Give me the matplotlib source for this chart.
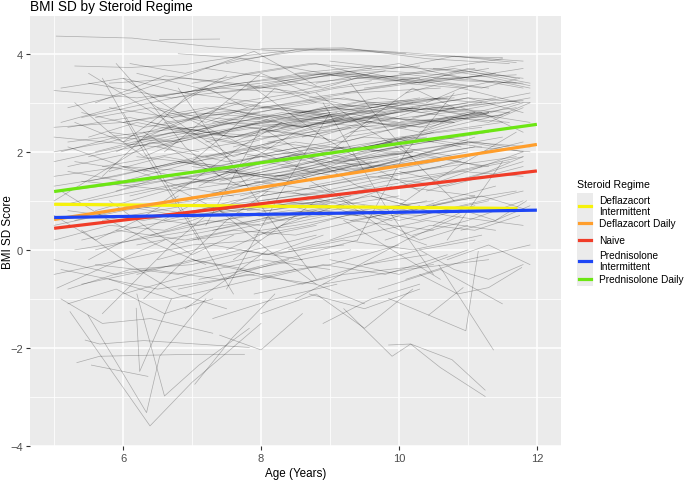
import matplotlib
matplotlib.use("Agg")
import matplotlib.pyplot as plt
from matplotlib.patches import Rectangle
from matplotlib.lines import Line2D

plt.rcParams['font.family'] = ['Liberation Sans', 'DejaVu Sans']

# ---------------- data ----------------
# individual trajectories: (start age, visit spacing, BMI SD values)
TRAJ_REGULAR = [
    (5.03, 1.1, [4.36, 4.32, 4.15, 4.05]),
    (6.53, 0.87, [4.29, 4.30]),
    (5.30, 0.8, [3.75, 3.72, 3.78, 3.95, 4.08, 4.10, 4.00]),
    (5.20, 0.9, [2.90, 3.20, 3.60, 4.05, 3.35]),
    (5.00, 1.2, [3.25, 3.10, 3.30, 3.50, 3.65]),
    (5.60, 1.0, [3.00, 3.55, 3.40, 3.20, 3.45]),
    (6.80, 1.0, [4.00, 3.90, 4.10, 4.05, 3.95, 3.85]),
    (8.00, 1.2, [4.10, 4.12, 3.90, 3.80]),
    (7.50, 1.0, [3.80, 4.08, 4.05, 3.95, 3.92]),
    (9.00, 0.9, [3.85, 3.70, 3.95, 3.82]),
    (8.50, 1.1, [3.60, 3.75, 3.68, 3.50]),
    (9.50, 1.1, [3.30, 3.50, 3.57]),
    (5.10, 1.3, [2.60, 3.10, 3.40, 3.60, 3.75]),
    (5.80, 1.1, [3.40, 3.50, 3.30, 3.60, 3.45, 3.70]),
    (6.20, 1.2, [3.60, 3.20, 3.40, 3.55, 3.30]),
    (5.50, 0.7, [3.60, 3.00, 2.40, 1.80]),
    (6.00, 0.9, [3.50, 2.70, 2.10, 1.60]),
    (7.20, 1.0, [3.70, 3.50, 3.65, 3.40, 3.55]),
    (8.80, 1.0, [3.40, 3.65, 3.55, 3.30]),
    (10.0, 0.9, [3.60, 3.45, 3.40]),
    (9.20, 0.85, [3.20, 3.40, 3.30, 3.00]),
    (6.40, 1.1, [3.10, 3.35, 3.60, 3.50, 3.70, 3.40]),
    (5.70, 0.6, [1.50, 2.30, 3.10, 3.55]),
    (6.60, 0.7, [2.00, 2.80, 3.60, 3.20]),
    (7.80, 1.1, [3.30, 3.60, 3.45, 3.70]),
    (10.5, 0.7, [3.70, 3.55, 3.35]),
    (5.10, 0.9, [3.30, 3.50, 3.20, 3.60, 3.80, 3.70]),
    (5.40, 1.0, [2.70, 3.00, 3.30, 3.20, 3.50, 3.40, 3.60]),
    (6.10, 0.8, [3.80, 3.60, 3.90, 3.70, 3.50]),
    (7.00, 0.9, [3.40, 3.60, 3.80, 3.50, 3.70, 3.90]),
    (8.20, 0.7, [3.50, 3.30, 3.60, 3.40, 3.70, 3.50]),
    (9.10, 0.9, [3.60, 3.80, 3.50, 3.70]),
    (10.1, 0.55, [3.20, 3.40, 3.30, 3.50]),
    (5.50, 1.2, [3.40, 3.10, 3.30, 3.60, 3.50]),
    (6.90, 1.1, [3.20, 3.00, 3.30, 3.50, 3.30]),
    (8.70, 1.0, [3.10, 3.30, 3.50, 3.40]),
    (10.4, 0.5, [3.00, 3.30, 3.45, 3.30]),
    (5.00, 1.0, [2.50, 2.60, 2.80, 2.70, 2.90, 3.00]),
    (5.20, 1.1, [2.20, 2.40, 2.55, 2.80, 2.90]),
    (5.40, 0.9, [2.80, 2.50, 2.70, 2.60, 2.95]),
    (5.10, 0.8, [2.00, 2.30, 2.20, 2.60, 2.50, 2.80]),
    (6.00, 1.2, [2.60, 2.90, 2.70, 3.00, 3.10]),
    (6.30, 1.0, [2.30, 2.50, 2.80, 2.60, 2.90, 2.70]),
    (7.00, 1.1, [2.70, 2.90, 3.10, 2.80, 3.00]),
    (7.40, 0.9, [2.40, 2.70, 2.60, 2.90, 3.10, 3.00]),
    (8.00, 1.0, [2.90, 3.10, 2.95, 3.20]),
    (8.30, 1.1, [2.50, 2.70, 2.90, 2.80]),
    (9.00, 1.0, [2.60, 2.80, 3.00]),
    (9.60, 0.8, [2.90, 3.10, 3.00]),
    (10.2, 0.8, [2.70, 2.95, 3.05]),
    (5.50, 1.3, [1.90, 2.30, 2.60, 2.80, 3.10]),
    (5.80, 1.0, [2.40, 2.20, 2.50, 2.30, 2.70, 2.60]),
    (6.50, 0.9, [2.90, 2.60, 2.40, 2.70, 2.50]),
    (7.20, 1.2, [2.20, 2.50, 2.70, 2.60]),
    (7.70, 1.0, [2.80, 2.60, 2.50, 2.70, 2.90]),
    (8.60, 0.9, [2.30, 2.60, 2.50, 2.80]),
    (9.30, 1.0, [2.40, 2.60, 2.80]),
    (10.0, 1.0, [2.50, 2.70]),
    (5.30, 0.7, [2.60, 2.20, 2.50, 2.90, 2.70]),
    (6.10, 1.4, [2.10, 2.40, 2.70, 2.90]),
    (6.80, 0.8, [2.50, 2.30, 2.60, 2.80, 2.60, 2.90]),
    (8.10, 1.3, [2.20, 2.50, 2.70]),
    (5.00, 1.5, [2.30, 2.10, 2.60, 2.90]),
    (5.60, 0.8, [2.70, 2.90, 2.60, 3.00]),
    (7.00, 0.6, [1.80, 2.50, 3.30, 3.00]),
    (8.80, 0.7, [3.20, 2.50, 1.90]),
    (9.80, 0.9, [2.20, 2.50, 2.80]),
    (10.6, 0.6, [2.60, 2.80, 2.40]),
    (6.70, 1.3, [2.70, 2.90, 3.20, 3.30]),
    (5.20, 1.0, [1.70, 2.00, 2.40, 2.30, 2.60]),
    (7.60, 0.8, [2.10, 2.40, 2.20, 2.50, 2.70, 2.60]),
    (8.40, 1.0, [2.70, 3.00, 2.85, 3.10]),
    (9.10, 1.2, [2.90, 2.60, 2.75]),
    (5.90, 0.9, [2.00, 2.60, 3.00, 2.80]),
    (6.40, 0.6, [3.00, 2.40, 1.90, 2.20]),
    (5.00, 0.8, [2.00, 2.20, 2.50, 2.40, 2.70, 2.90, 2.80]),
    (5.20, 0.9, [2.50, 2.70, 2.40, 2.80, 3.00, 2.90]),
    (5.50, 0.7, [2.30, 2.60, 2.40, 2.20, 2.60, 2.80]),
    (5.80, 0.9, [2.90, 2.70, 3.00, 3.20, 2.90, 3.10]),
    (6.20, 0.8, [2.20, 2.50, 2.70, 2.50, 2.80, 3.00]),
    (6.60, 1.0, [2.60, 2.80, 2.50, 2.90, 3.10]),
    (7.10, 0.8, [2.30, 2.10, 2.40, 2.70, 2.50, 2.80]),
    (7.50, 1.1, [3.00, 2.80, 3.10, 2.90, 3.20]),
    (8.10, 0.9, [2.40, 2.60, 2.90, 2.70, 3.00]),
    (8.60, 0.8, [2.80, 2.60, 2.90, 3.10, 2.80]),
    (9.20, 0.9, [2.30, 2.50, 2.80, 2.60]),
    (9.70, 0.7, [2.60, 2.90, 2.70, 3.00]),
    (10.3, 0.5, [2.40, 2.70, 2.60, 2.90]),
    (10.9, 0.5, [2.90, 2.70, 3.00]),
    (5.00, 1.3, [1.80, 2.20, 2.60, 2.50, 2.90]),
    (5.60, 1.1, [2.00, 2.40, 2.30, 2.70, 2.90, 2.80]),
    (6.40, 1.2, [2.60, 2.30, 2.70, 3.00, 2.80]),
    (7.30, 1.0, [2.60, 2.90, 2.70, 2.40, 2.80]),
    (8.30, 1.2, [2.90, 2.60, 2.80, 3.10]),
    (9.50, 1.0, [2.10, 2.40, 2.60]),
    (6.00, 0.6, [2.20, 2.80, 3.30, 2.90]),
    (7.80, 0.6, [3.40, 2.80, 2.20, 2.60]),
    (9.00, 0.6, [2.00, 2.70, 3.30, 2.90]),
    (5.30, 0.5, [3.00, 2.40, 1.90, 2.20]),
    (5.00, 1.0, [1.50, 1.70, 1.60, 1.90, 2.10, 2.00]),
    (5.10, 1.2, [1.20, 1.40, 1.70, 1.90, 2.20]),
    (5.30, 0.9, [1.80, 1.60, 1.90, 2.10, 1.80]),
    (5.50, 1.1, [1.00, 1.30, 1.50, 1.80, 1.70, 2.00]),
    (5.80, 0.8, [1.60, 1.90, 1.70, 2.00, 2.20]),
    (6.00, 1.0, [1.30, 1.50, 1.80, 1.60, 1.90]),
    (6.20, 1.3, [1.90, 1.70, 2.00, 2.30]),
    (6.60, 0.9, [1.40, 1.60, 1.90, 2.10, 1.90]),
    (7.00, 1.0, [1.70, 1.50, 1.80, 2.00, 2.20]),
    (7.30, 1.2, [1.20, 1.50, 1.70, 1.90]),
    (7.80, 0.8, [1.90, 2.10, 1.80, 2.00]),
    (8.20, 1.0, [1.50, 1.80, 2.00, 1.70]),
    (8.70, 1.1, [1.30, 1.60, 1.90]),
    (9.20, 0.9, [1.80, 2.00, 2.20, 2.10]),
    (9.70, 1.0, [1.50, 1.70, 1.90]),
    (10.3, 0.8, [1.90, 2.10, 2.00]),
    (5.00, 0.7, [1.00, 1.60, 2.20, 2.00]),
    (5.40, 1.4, [1.40, 1.20, 1.50, 1.80]),
    (6.30, 0.7, [2.40, 1.80, 1.30, 1.50]),
    (6.90, 1.1, [1.00, 1.40, 1.80, 2.00]),
    (7.50, 0.9, [1.60, 1.40, 1.70, 1.90, 2.10]),
    (8.00, 1.3, [1.10, 1.40, 1.70]),
    (8.90, 0.7, [2.30, 1.70, 1.20]),
    (9.40, 1.1, [1.20, 1.50, 1.80]),
    (10.0, 0.6, [1.60, 1.40, 1.70, 2.00]),
    (10.8, 0.5, [1.40, 1.60, 1.90]),
    (5.20, 0.8, [2.10, 1.70, 1.30, 1.10]),
    (5.60, 1.0, [0.80, 1.20, 1.60, 2.00]),
    (6.10, 0.9, [1.10, 1.40, 1.30, 1.60, 1.80]),
    (6.80, 1.4, [1.80, 1.50, 1.70]),
    (7.10, 0.7, [1.30, 1.80, 2.40, 2.70]),
    (7.90, 1.0, [1.40, 1.20, 1.50, 1.80]),
    (8.50, 0.8, [1.70, 2.00, 2.30, 2.10]),
    (9.00, 1.3, [1.50, 1.90]),
    (5.70, 1.2, [1.70, 2.00, 2.30, 2.50]),
    (6.50, 1.0, [2.10, 1.80, 2.00, 2.30, 2.20]),
    (7.60, 1.2, [1.50, 1.90, 2.30, 2.50]),
    (8.40, 0.9, [1.90, 1.60, 1.90, 2.30]),
    (10.4, 0.7, [1.20, 1.50, 1.80]),
    (5.00, 0.9, [1.30, 1.50, 1.80, 1.60, 1.90, 2.10, 2.30]),
    (5.20, 0.8, [1.60, 1.40, 1.70, 2.00, 1.80, 2.10]),
    (5.50, 1.0, [1.40, 1.70, 1.90, 2.20, 2.00, 2.40]),
    (5.90, 0.7, [1.20, 1.50, 1.40, 1.80, 2.00, 1.70]),
    (6.30, 0.9, [1.60, 1.90, 2.10, 1.80, 2.20]),
    (6.80, 0.8, [1.30, 1.60, 1.40, 1.80, 2.10, 1.90]),
    (7.20, 1.0, [1.90, 2.20, 2.00, 2.30, 2.10]),
    (7.70, 0.9, [1.10, 1.40, 1.60, 1.90, 1.70]),
    (8.30, 0.8, [1.70, 1.50, 1.80, 2.10, 2.30]),
    (8.80, 1.0, [1.10, 1.40, 1.60, 1.90]),
    (9.40, 0.8, [1.60, 1.90, 2.20, 2.00]),
    (10.0, 0.9, [1.30, 1.60, 1.50]),
    (10.6, 0.6, [1.70, 2.00, 2.20]),
    (5.10, 1.1, [0.90, 1.30, 1.60, 1.50, 1.80]),
    (6.00, 1.2, [1.70, 1.40, 1.60, 2.00, 2.30]),
    (7.40, 1.3, [1.40, 1.80, 2.10, 2.40]),
    (8.50, 1.1, [1.20, 1.50, 1.30, 1.70]),
    (9.60, 1.0, [2.00, 2.30, 2.10]),
    (6.50, 0.6, [0.90, 1.50, 2.10, 2.60]),
    (8.00, 0.7, [2.50, 1.90, 1.30, 1.00]),
    (9.90, 0.6, [0.80, 1.40, 1.90, 2.40]),
    (5.00, 1.0, [0.50, 0.80, 1.00, 1.20, 1.10]),
    (5.20, 1.1, [0.80, 0.60, 0.90, 1.10, 1.30]),
    (5.40, 0.9, [0.20, 0.50, 0.70, 0.90, 1.00]),
    (5.70, 1.2, [0.60, 0.90, 0.80, 1.10]),
    (6.00, 0.8, [0.90, 0.70, 1.00, 1.20, 0.90]),
    (6.40, 1.0, [0.30, 0.60, 0.80, 0.70, 1.00]),
    (6.90, 1.3, [0.70, 0.90, 1.20]),
    (7.30, 0.9, [0.40, 0.70, 0.90, 1.10]),
    (7.80, 1.1, [0.80, 1.00, 1.30, 1.10]),
    (8.30, 1.0, [0.50, 0.80, 0.70, 1.00]),
    (8.80, 0.8, [0.90, 1.10, 0.80]),
    (9.30, 1.2, [0.60, 0.90]),
    (9.90, 0.9, [0.70, 1.00, 1.20]),
    (10.5, 0.7, [0.90, 1.10, 0.80]),
    (5.10, 0.7, [1.20, 0.60, 0.10, -0.30]),
    (5.50, 0.8, [-0.20, 0.40, 1.00, 1.50]),
    (6.20, 1.1, [0.10, 0.40, 0.70, 0.90]),
    (6.70, 0.7, [1.30, 0.80, 0.30, 0.50]),
    (7.50, 0.8, [0.00, 0.50, 0.90, 1.30]),
    (8.10, 1.2, [1.00, 0.60, 0.40]),
    (9.00, 0.8, [0.20, 0.60, 1.00, 1.30]),
    (9.60, 1.1, [1.10, 0.70, 0.50]),
    (10.2, 0.8, [0.30, 0.60, 1.00]),
    (5.30, 1.3, [0.00, 0.30, 0.60, 0.90]),
    (5.90, 1.0, [0.40, 0.20, 0.50, 0.80, 0.60]),
    (7.00, 1.5, [0.20, 0.50, 0.90]),
    (8.60, 0.6, [1.50, 1.00, 0.40, 0.10]),
    (6.60, 0.9, [0.60, 0.90, 1.40, 1.70]),
    (5.00, 0.6, [0.70, 0.20, 0.60, 1.10]),
    (10.9, 0.5, [0.40, 0.60, 0.90]),
    (5.00, 0.8, [0.20, 0.50, 0.40, 0.80, 1.00, 0.90]),
    (5.30, 0.9, [0.60, 0.90, 0.70, 1.00, 1.20]),
    (5.60, 0.8, [0.00, 0.30, 0.60, 0.50, 0.80]),
    (6.10, 1.0, [0.70, 0.50, 0.80, 1.00, 0.80, 1.10]),
    (6.70, 0.9, [0.10, 0.40, 0.30, 0.60, 0.90]),
    (7.20, 1.1, [0.90, 0.60, 0.80, 1.00]),
    (7.90, 0.8, [0.30, 0.50, 0.80, 0.60, 0.90]),
    (8.40, 1.0, [0.00, 0.30, 0.60, 0.40]),
    (9.10, 0.9, [0.90, 0.60, 0.90, 1.20]),
    (9.80, 0.65, [0.20, 0.50, 0.40, 0.70]),
    (10.5, 0.45, [0.50, 0.80, 0.60, 1.00]),
    (5.80, 0.6, [1.00, 0.40, -0.10, 0.30]),
    (7.60, 0.6, [-0.20, 0.40, 1.00, 0.70]),
    (8.90, 0.7, [1.30, 0.70, 0.20, 0.50]),
    (5.00, 1.0, [-0.50, -0.20, 0.10, 0.20]),
    (5.20, 0.9, [-0.80, -0.40, -0.30, 0.00, 0.30]),
    (5.60, 1.2, [-0.30, -0.50, -0.10, 0.10]),
    (6.00, 1.0, [-0.90, -0.50, -0.20, -0.40]),
    (6.50, 0.8, [-0.20, 0.10, -0.10, 0.30]),
    (7.10, 1.1, [-0.60, -0.30, 0.00]),
    (7.70, 0.9, [-0.40, -0.70, -0.30, -0.10]),
    (8.20, 1.0, [-0.10, 0.20, 0.00, 0.30]),
    (8.90, 1.2, [-0.70, -0.40, -0.20]),
    (9.50, 0.8, [-0.30, 0.00, 0.20]),
    (10.1, 0.9, [-0.60, -0.20, 0.10]),
    (5.40, 0.7, [0.40, -0.30, -0.90, -1.20]),
    (6.30, 0.6, [-1.00, -0.20, 0.60, 1.20]),
    (7.40, 0.7, [0.80, 0.00, -0.70, -1.10]),
    (8.50, 0.8, [-1.00, -0.40, 0.20, 0.70]),
    (9.20, 0.7, [0.60, 0.00, -0.60]),
    (5.10, 1.4, [-0.40, -0.80, -0.50]),
    (5.80, 0.9, [-0.60, -1.00, -0.70, -0.40]),
    (6.80, 1.0, [-0.80, -0.50, -0.70]),
    (7.90, 1.3, [-0.90, -0.50, -0.30]),
    (10.7, 0.6, [-0.20, 0.10, -0.30]),
    (5.00, 0.9, [-0.20, -0.50, -0.30, 0.00, -0.20]),
    (5.40, 1.0, [-0.70, -0.40, -0.60, -0.20]),
    (6.20, 0.8, [-0.50, -0.20, -0.40, -0.10, 0.20]),
    (7.00, 1.0, [-0.20, -0.50, -0.30, 0.10]),
    (8.00, 0.9, [-0.60, -0.30, -0.50, -0.10]),
    (9.00, 1.0, [-0.20, -0.50, 0.00]),
    (10.3, 0.5, [0.00, -0.40, -0.60, -0.30]),
    (5.70, 0.5, [-1.30, -0.60, 0.10, 0.70]),
    (6.90, 0.6, [-1.20, -0.60, 0.00]),
    (8.70, 0.8, [-0.90, -1.20, -0.80]),
    (9.70, 0.9, [-0.80, -0.40, -1.10]),
    (5.20, 0.7, [-1.10, -0.80, -1.30, -1.00]),
    (7.30, 0.9, [-1.40, -1.00, -0.70]),
    (5.90, 0.5, [3.80, 3.00, 2.10, 1.50]),
    (7.20, 0.4, [0.50, 1.50, 2.50]),
    (9.30, 0.5, [3.40, 2.50, 1.70, 1.00]),
    (10.7, 0.4, [0.20, 1.00, 1.80]),
]

# irregular trajectories (mostly the low outliers): ages and values
TRAJ_AGES = [
    [5.23, 6.39, 7.0, 8.0],
    [5.49, 6.34, 6.53, 7.2],
    [5.33, 5.66, 7.0, 7.76],
    [5.54, 6.36],
    [5.45, 5.66, 6.3, 7.83],
    [6.19, 6.24, 6.7],
    [6.2, 6.6, 7.1, 7.83],
    [7.04, 7.58, 8.2],
    [5.1, 5.7, 6.4, 7.3],
    [9.85, 10.17, 10.77, 11.25],
    [9.2, 9.9, 10.17, 10.6, 11.25],
    [9.85, 10.43, 10.97, 11.15],
    [10.58, 11.37],
    [10.43, 10.93],
    [10.3, 10.85, 11.3, 11.78],
    [8.9, 9.6, 10.3],
    [8.0, 8.8, 9.5, 10.2],
    [6.8, 8.2, 8.8],
    [7.5, 8.3, 9.0],
    [6.0, 7.0, 7.6],
    [8.9, 9.8, 10.5],
    [9.4, 10.1, 10.8],
    [5.7, 6.3, 7.1],
    [7.4, 8.0, 8.6],
    [5.04, 5.8, 6.6],
]
TRAJ_VALUES = [
    [-1.26, -3.59, -2.7, -1.5],
    [-1.33, -3.32, -2.17, -1.0],
    [-2.30, -2.17, -2.13, -2.13],
    [-2.35, -2.58],
    [-1.84, -1.92, -1.85, -1.99],
    [-1.19, -2.48, -1.0],
    [-0.9, -2.98, -2.35, -1.6],
    [-2.74, -1.8, -0.9],
    [-1.0, -1.5, -1.4, -1.7],
    [-1.94, -1.92, -2.24, -2.86],
    [-1.2, -2.17, -1.92, -2.4, -2.99],
    [-0.99, -1.33, -1.65, -0.03],
    [-0.31, -2.04],
    [-1.33, -0.77],
    [-0.5, -0.9, -0.77, -0.36],
    [-1.5, -1.0, -0.7],
    [-1.3, -0.9, -1.6, -0.8],
    [3.3, 0.5, -0.6],
    [-0.8, 1.2, 2.8],
    [2.8, 0.5, -0.9],
    [3.0, 0.9, -0.5],
    [0.2, 2.0, 3.2],
    [3.5, 2.0, 0.2],
    [-1.74, -2.04, -1.3],
    [-0.78, -0.3, 0.2],
]

# fitted regime lines
REGIMES = ["Deflazacort\nIntermittent", "Deflazacort Daily", "Naive",
           "Prednisolone\nIntermittent", "Prednisolone Daily"]
FIT_AGE_START = [5.0, 5.0, 5.0, 5.0, 5.0]
FIT_AGE_END = [11.72, 12.0, 12.0, 12.0, 12.0]
FIT_START = [0.93, 0.62, 0.44, 0.66, 1.19]
FIT_END = [0.845, 2.15, 1.61, 0.81, 2.56]
COLORS = ["#F6F20A", "#FF9E2C", "#F03C28", "#1E46F5", "#6CE613"]

X_TICKS = [6, 8, 10, 12]
Y_TICKS = [-4, -2, 0, 2, 4]

# ---------------- figure ----------------
W, H = 685, 481
fig = plt.figure(figsize=(W / 100, H / 100), dpi=100)
px = lambda x0, y0, x1, y1: [x0 / W, 1 - y1 / H, (x1 - x0) / W, (y1 - y0) / H]
ax = fig.add_axes(px(30, 17, 561, 447))
ax.set_facecolor("#EBEBEB")
for s in ax.spines.values():
    s.set_visible(False)

ax.set_xlim(4.65, 12.35)
ax.set_ylim(-4.0, 4.77)
ax.set_xticks(X_TICKS)
ax.set_yticks(Y_TICKS)
ax.set_xticks([5, 7, 9, 11], minor=True)
ax.set_yticks([-3, -1, 1, 3], minor=True)
ax.grid(which="major", color="white", linewidth=1.1)
ax.grid(which="minor", color="white", linewidth=0.55)
ax.set_axisbelow(True)
ax.tick_params(which="major", length=3, width=0.8, color="#333333",
               labelcolor="#4D4D4D", labelsize=8, pad=2)
ax.tick_params(which="minor", length=0)

for start, step, vals in TRAJ_REGULAR:
    ages = [start + i * step for i in range(len(vals))]
    ax.plot(ages, vals, color="black", alpha=0.27, linewidth=0.5)
for ages, vals in zip(TRAJ_AGES, TRAJ_VALUES):
    ax.plot(ages, vals, color="black", alpha=0.27, linewidth=0.5)

for a0, a1, v0, v1, c in zip(FIT_AGE_START, FIT_AGE_END, FIT_START, FIT_END, COLORS):
    ax.plot([a0, a1], [v0, v1], color=c, linewidth=2.3, solid_capstyle="butt")

ax.set_xlabel("Age (Years)", fontsize=8.4, labelpad=3)
fig.text(8 / W, 1 - 232 / H, "BMI SD Score", fontsize=8.4, rotation=90,
         ha="center", va="center")
fig.text(30 / W, 1 - 7 / H, "BMI SD by Steroid Regime", fontsize=9.8,
         ha="left", va="center")

# legend
lax = fig.add_axes(px(570, 175, 685, 295))
lax.set_xlim(570, 685)
lax.set_ylim(295, 175)
lax.axis("off")
lax.text(577, 185, "Steroid Regime", fontsize=7.6, va="center", ha="left")
key_y = [206.7, 224, 241, 261.7, 280]
lax.add_patch(Rectangle((577, 194), 16, 93, facecolor="#EBEBEB", edgecolor="none"))
for lab, c, yk in zip(REGIMES, COLORS, key_y):
    lax.add_line(Line2D([579, 591], [yk, yk], color=c, linewidth=2.3))
    lax.text(599, yk, lab, fontsize=7.3, va="center", ha="left", linespacing=1.1)

fig.savefig("out.png", dpi=100)
